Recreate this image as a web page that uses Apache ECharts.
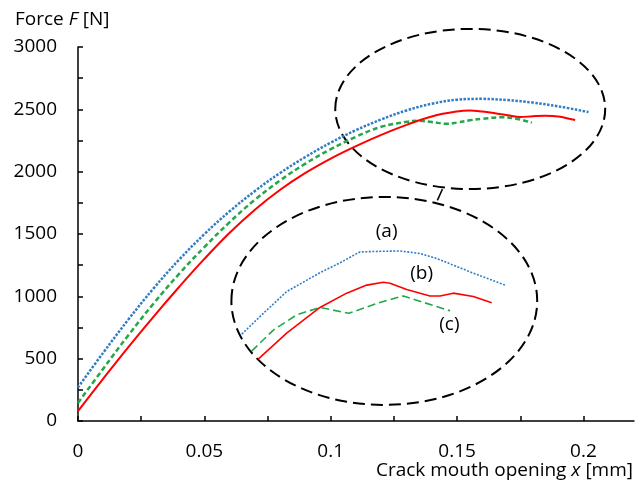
<!DOCTYPE html>
<html><head><meta charset="utf-8">
<script src="https://cdn.jsdelivr.net/npm/echarts@6/dist/echarts.min.js"></script>
<style>html,body{margin:0;padding:0;background:#fff}#c{width:638px;height:484px}</style>
</head><body><div id="c"></div>
<script>
// ---- main chart data: crack mouth opening x [mm] / force F [N]
const xA = [0,0.01,0.02,0.03,0.04,0.05,0.06,0.07,0.08,0.09,0.10,0.11,0.12,0.13,0.14,0.15,0.16,0.17,0.18,0.19,0.202];
const fA = [270,548,816,1066,1294,1499,1682,1845,1990,2118,2233,2333,2419,2491,2545,2577,2584,2574,2554,2524,2478];
const xB = [0,0.01,0.02,0.03,0.04,0.05,0.06,0.07,0.08,0.09,0.10,0.11,0.12,0.13,0.14,0.15,0.155,0.16,0.165,0.17,0.175,0.18,0.185,0.19,0.1967];
const fB = [80,340,595,840,1075,1300,1510,1695,1855,1990,2105,2205,2295,2375,2443,2483,2490,2482,2468,2452,2438,2445,2449,2443,2414];
const xC = [0,0.01,0.02,0.03,0.04,0.05,0.06,0.07,0.08,0.09,0.10,0.11,0.12,0.13,0.135,0.14,0.146,0.15,0.155,0.16,0.167,0.172,0.1796];
const fC = [145,420,690,945,1180,1395,1595,1775,1930,2065,2180,2280,2360,2400,2408,2398,2384,2394,2412,2424,2436,2430,2393];
// ---- inset (magnified) data
const ixA = [0.0947,0.1035,0.1130,0.1266,0.1348,0.1429,0.1511,0.1593,0.1674,0.1742,0.1878,0.2021];
const ifA = [2312,2379,2449,2510,2542,2577,2579,2580,2572,2556,2513,2470];
const ixB = [0.1014,0.1130,0.1266,0.1375,0.1457,0.1525,0.1552,0.1620,0.1715,0.1756,0.1810,0.1892,0.1967];
const ifB = [2231,2315,2398,2444,2470,2479,2476,2456,2435,2435,2444,2433,2413];
const ixC = [0.0987,0.1076,0.1171,0.1266,0.1384,0.1498,0.1606,0.1797];
const ifC = [2257,2325,2374,2398,2379,2411,2435,2387];
// ---- ticks
const xTickLabels = [0,0.05,0.1,0.15,0.2];
const xTickMarks = [0,0.025,0.05,0.075,0.1,0.125,0.15,0.175,0.2];
const yTickMarks = [0,250,500,750,1000,1250,1500,1750,2000,2250,2500,2750,3000];
const seriesNames = ['(a)','(b)','(c)'];

const zip = (xs, ys) => xs.map((x, i) => [x, ys[i]]);
const FONT = '"Open Sans", "Liberation Sans", sans-serif';
const FS = 19;
const BLUE = '#2e7dc4', RED = '#ff0000', GREEN = '#22a84a';

const chart = echarts.init(document.getElementById('c'), null, {renderer: 'canvas'});
const axisTxt = {color: '#000', fontSize: FS, fontFamily: FONT};
chart.setOption({
  animation: false,
  backgroundColor: '#fff',
  grid: [
    {left: 78, right: 4, top: 47, height: 374},
    {left: 230.3, width: 294, top: 229.3, height: 139.5}
  ],
  xAxis: [
    {gridIndex: 0, type: 'value', min: 0, max: 0.22, interval: 0.05,
     axisLine: {lineStyle: {color: '#000', width: 1.5}},
     axisTick: {show: true, inside: true, length: 5, customValues: xTickMarks, lineStyle: {color: '#000', width: 1.5}},
     axisLabel: Object.assign({margin: 21, customValues: xTickLabels, formatter: v => String(v)}, axisTxt),
     splitLine: {show: false}},
    {gridIndex: 1, type: 'value', min: 0.09, max: 0.21, show: false}
  ],
  yAxis: [
    {gridIndex: 0, type: 'value', min: 0, max: 3000, interval: 500,
     axisLine: {show: true, lineStyle: {color: '#000', width: 1.5}},
     axisTick: {show: true, inside: true, length: 5, customValues: yTickMarks, lineStyle: {color: '#000', width: 1.5}},
     axisLabel: Object.assign({margin: 21, formatter: v => String(v)}, axisTxt),
     splitLine: {show: false}},
    {gridIndex: 1, type: 'value', min: 2200, max: 2650, show: false}
  ],
  series: [
    {name: seriesNames[0], type: 'line', data: zip(xA, fA), showSymbol: false, smooth: 0.4, z: 3,
     lineStyle: {color: BLUE, width: 2.5, type: [2.5, 1.5]}},
    {name: seriesNames[2], type: 'line', data: zip(xC, fC), showSymbol: false, smooth: 0.4, z: 2,
     lineStyle: {color: GREEN, width: 2.5, type: [5, 3]}},
    {name: seriesNames[1], type: 'line', data: zip(xB, fB), showSymbol: false, smooth: 0.4, z: 4,
     lineStyle: {color: RED, width: 2}},
    {name: seriesNames[0] + ' inset', type: 'line', xAxisIndex: 1, yAxisIndex: 1, data: zip(ixA, ifA), showSymbol: false,
     lineStyle: {color: BLUE, width: 1.6, type: [2, 1.5]}},
    {name: seriesNames[2] + ' inset', type: 'line', xAxisIndex: 1, yAxisIndex: 1, data: zip(ixC, ifC), showSymbol: false,
     lineStyle: {color: GREEN, width: 1.6, type: [8, 4]}},
    {name: seriesNames[1] + ' inset', type: 'line', xAxisIndex: 1, yAxisIndex: 1, data: zip(ixB, ifB), showSymbol: false,
     lineStyle: {color: RED, width: 1.6}}
  ]
});

// annotations (ellipses, connector, series labels) placed in data coordinates
const toPx = (grid, pt) => chart.convertToPixel({gridIndex: grid}, pt);
const smallC = toPx(0, [0.1552, 2503]);
const smallR = toPx(0, [0.1552 + 0.0534, 2503 + 642]);
const bigC = toPx(0, [0.1212, 963]);
const bigR = toPx(0, [0.1212 + 0.0605, 963 + 834]);
const conA = toPx(0, [0.1442, 1860]);
const conB = toPx(0, [0.1422, 1770]);
const lblPos = [[0.1538, 2642], [0.1681, 2508], [0.1794, 2341]].map(p => toPx(1, p));
const dash = {fill: 'none', stroke: '#000', lineWidth: 2, lineDash: [12, 6]};
const rich = {n: {fontSize: FS, fontFamily: FONT, fill: '#000'}, i: {fontSize: FS, fontFamily: FONT, fontStyle: 'italic', fill: '#000'}};
const elems = [
  {type: 'ellipse', shape: {cx: smallC[0], cy: smallC[1], rx: smallR[0] - smallC[0], ry: smallC[1] - smallR[1]}, style: dash, z: 1},
  {type: 'ellipse', shape: {cx: bigC[0], cy: bigC[1], rx: bigR[0] - bigC[0], ry: bigC[1] - bigR[1]}, style: dash, z: 1},
  {type: 'line', shape: {x1: conA[0], y1: conA[1], x2: conB[0], y2: conB[1]}, style: {stroke: '#000', lineWidth: 1.5}},
  {type: 'text', x: 15, y: 20, style: {text: '{n|Force }{i|F}{n| [N]}', verticalAlign: 'middle', align: 'left', rich: rich}},
  {type: 'text', x: 633, y: 471, style: {text: '{n|Crack mouth opening }{i|x}{n| [mm]}', verticalAlign: 'middle', align: 'right', rich: rich}}
];
seriesNames.forEach((n, i) => elems.push({type: 'text', x: lblPos[i][0], y: lblPos[i][1],
  style: {text: n, fontSize: FS, fontFamily: FONT, fill: '#000', align: 'center', verticalAlign: 'middle'}}));
chart.setOption({graphic: elems});
</script></body></html>
